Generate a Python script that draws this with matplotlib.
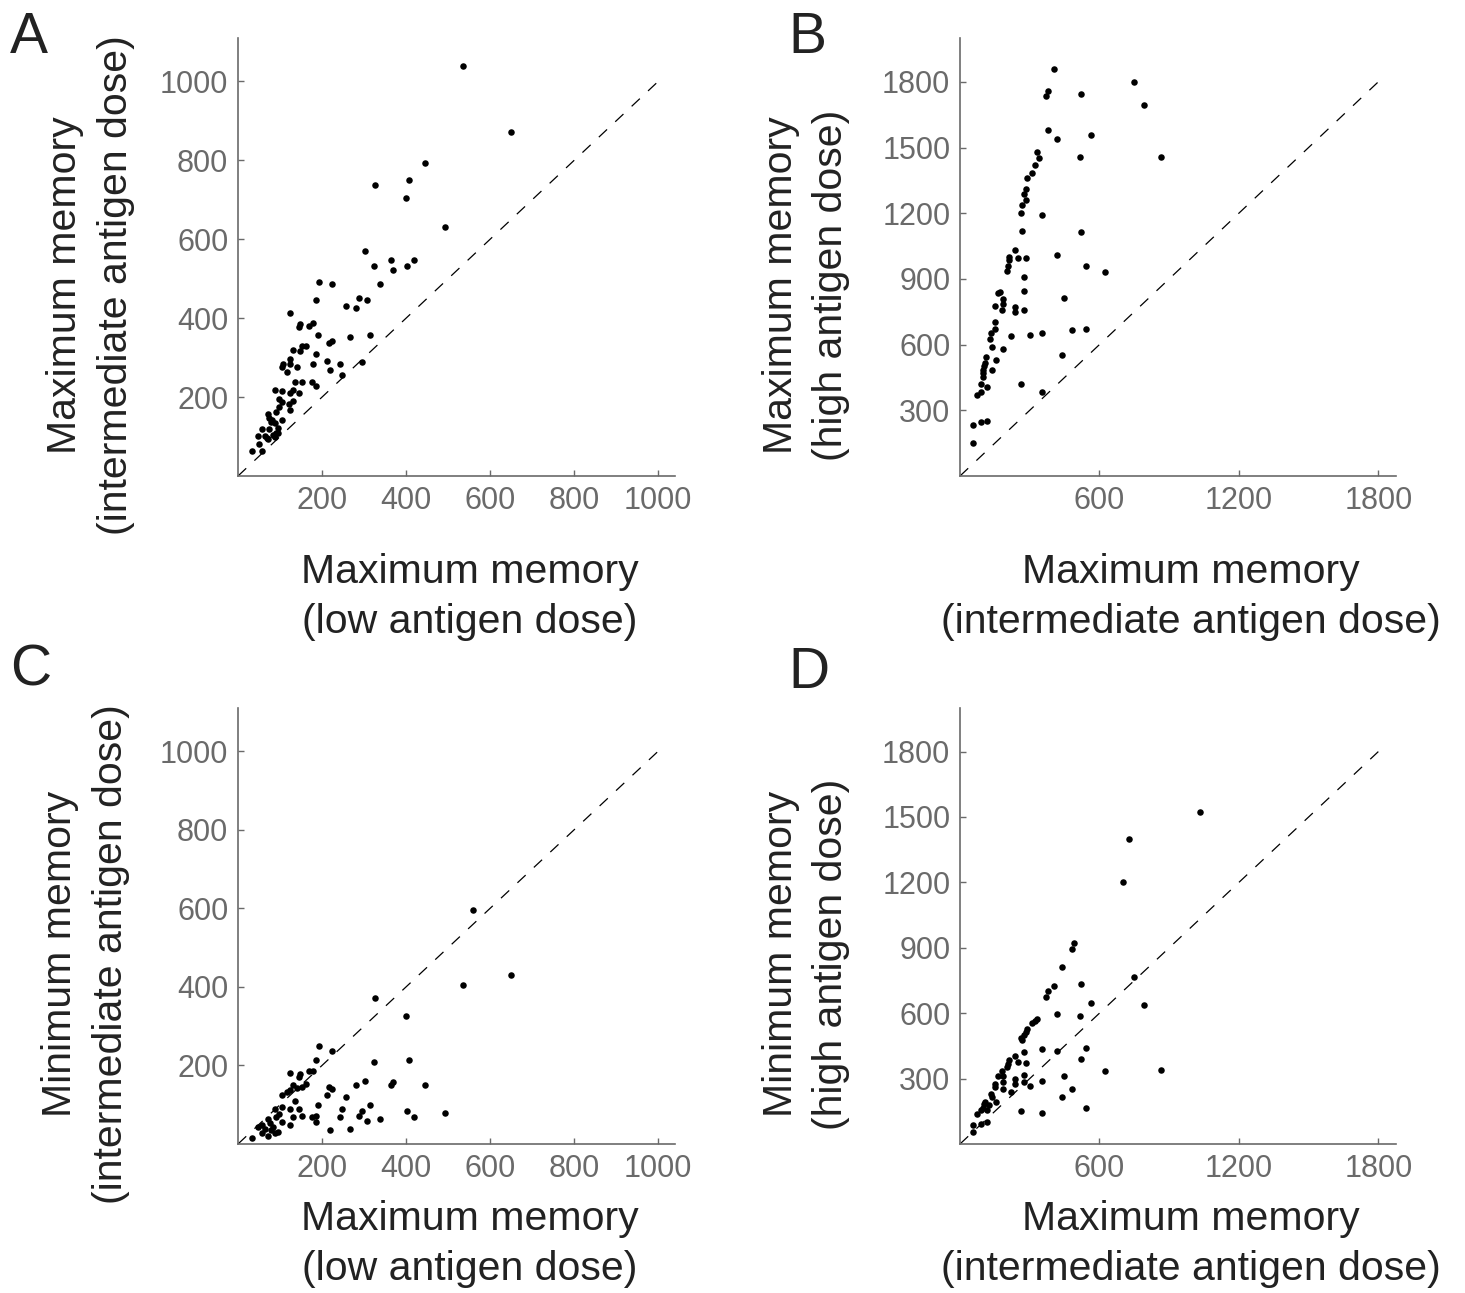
import numpy as np
import matplotlib.pyplot as plt

plt.rcParams['font.family'] = ['Liberation Sans', 'DejaVu Sans']

"""Data read off the four panels"""
# A: max memory, low dose (x) vs max memory, intermediate dose (y)
a_x = [536, 650, 445, 407, 327, 399, 493, 303, 365, 418, 323, 369, 403, 193, 224, 338,
       185, 289, 307, 258, 280, 124, 147, 144, 170, 179, 190, 266, 315, 216, 224, 132,
       148, 152, 163, 186, 124, 107, 105, 117, 123, 140, 179, 212, 220, 243, 296, 247,
       136, 152, 175, 186, 87, 105, 123, 132, 144, 97, 132, 105, 121, 124, 97, 91,
       71, 74, 81, 105, 87, 56, 74, 95, 48, 64, 72, 87, 91, 49, 56, 33,
       78, 68, 83, 95]
a_y = [1038, 872, 794, 750, 737, 705, 632, 571, 547, 547, 531, 523, 531, 491, 486, 486,
       446, 450, 446, 430, 425, 413, 385, 377, 381, 389, 357, 353, 357, 336, 341, 320,
       316, 329, 329, 308, 296, 284, 276, 264, 284, 275, 284, 292, 268, 284, 288, 255,
       239, 239, 239, 227, 219, 215, 211, 219, 211, 195, 191, 187, 183, 167, 175, 163,
       158, 147, 142, 142, 134, 118, 118, 122, 102, 102, 93, 98, 108, 81, 64, 64,
       138, 96, 104, 110]

# B: max memory, intermediate dose (x) vs max memory, high dose (y)
b_x = [406, 749, 380, 370, 522, 791, 379, 419, 564, 330, 338, 323, 517, 867, 310, 288,
       282, 276, 282, 268, 261, 351, 268, 522, 235, 209, 212, 248, 282, 419, 205, 202,
       543, 626, 275, 173, 164, 276, 183, 186, 152, 235, 179, 235, 275, 448, 149, 150,
       133, 127, 219, 303, 351, 482, 543, 137, 186, 111, 109, 97, 97, 97, 137, 157,
       90, 117, 261, 440, 75, 90, 351, 54, 90, 117, 54, 104]
b_y = [1860, 1801, 1758, 1737, 1743, 1692, 1582, 1538, 1559, 1480, 1451, 1420, 1457, 1457, 1384, 1362,
       1311, 1289, 1260, 1237, 1201, 1193, 1121, 1113, 1033, 1002, 987, 996, 996, 1011, 959, 938,
       959, 930, 909, 842, 835, 843, 806, 785, 777, 771, 756, 748, 756, 814, 704, 669,
       655, 626, 638, 646, 654, 667, 669, 588, 580, 544, 518, 486, 470, 452, 486, 530,
       420, 406, 420, 551, 368, 383, 383, 231, 246, 252, 150, 501]

# C: max memory, low dose (x) vs min memory, intermediate dose (y)
c_x = [559, 650, 536, 327, 399, 193, 224, 186, 323, 407, 124, 148, 144, 170, 178, 303,
       280, 365, 369, 445, 163, 152, 140, 132, 124, 117, 105, 216, 224, 212, 258, 136,
       190, 315, 124, 144, 105, 87, 247, 296, 403, 493, 152, 132, 175, 186, 243, 289,
       418, 307, 338, 186, 105, 91, 71, 97, 75, 124, 220, 266, 48, 56, 64, 56,
       87, 95, 72, 33, 83, 79]
c_y = [595, 429, 405, 372, 327, 250, 238, 214, 209, 214, 181, 178, 170, 186, 186, 161,
       149, 149, 157, 149, 154, 145, 142, 149, 137, 133, 125, 145, 141, 125, 120, 109,
       100, 100, 88, 88, 93, 88, 88, 84, 84, 80, 72, 68, 68, 72, 68, 72,
       68, 59, 64, 56, 56, 68, 64, 76, 53, 48, 36, 39, 44, 48, 39, 27,
       27, 31, 20, 15, 44, 36]

# D: max memory, intermediate dose (x) vs min memory, high dose (y)
d_x = [1031, 729, 701, 489, 482, 440, 406, 380, 370, 522, 749, 564, 791, 419, 517, 330,
       323, 310, 288, 282, 276, 261, 268, 351, 419, 543, 522, 275, 235, 212, 248, 206,
       202, 282, 626, 867, 179, 183, 164, 235, 186, 235, 275, 275, 351, 448, 303, 150,
       152, 186, 133, 137, 219, 482, 157, 440, 109, 104, 97, 90, 117, 75, 261, 351,
       543, 54, 90, 117, 54, 124]
d_y = [1525, 1400, 1201, 924, 895, 814, 726, 704, 676, 734, 764, 646, 639, 595, 588, 573,
       565, 557, 528, 514, 500, 486, 478, 434, 428, 442, 392, 421, 405, 384, 376, 368,
       355, 370, 334, 341, 334, 312, 312, 297, 283, 275, 318, 283, 289, 312, 268, 275,
       260, 252, 231, 216, 239, 252, 194, 216, 194, 185, 165, 158, 158, 137, 150, 143,
       165, 85, 92, 100, 56, 178]

"""Figure layout (pixel boxes of the four axes)"""
W, H = 1465, 1293
fig = plt.figure(figsize=(W / 100, H / 100), dpi=100)

grey = '#6a6a6a'
ink = '#222222'


def make_axes(left, top, right, bottom):
    return fig.add_axes([left / W, 1 - bottom / H, (right - left) / W, (bottom - top) / H])


def style(ax, lim_x, lim_y, ticks_x, ticks_y, xlabel, ylabel, diag, xlab_y, ylab_x):
    ax.plot([0, diag], [0, diag], color='black', lw=0.9, linestyle=(0, (9, 9)), zorder=1)
    ax.set_xlim(0, lim_x)
    ax.set_ylim(0, lim_y)
    ax.set_xticks(ticks_x)
    ax.set_yticks(ticks_y)
    for s in ['top', 'right']:
        ax.spines[s].set_visible(False)
    for s in ['left', 'bottom']:
        ax.spines[s].set_color(grey)
        ax.spines[s].set_linewidth(1.2)
    ax.tick_params(direction='in', length=4, width=1, color=grey, labelcolor=grey,
                   labelsize=22, pad=7)
    ax.set_xlabel(xlabel, fontsize=29.5, color=ink, linespacing=1.4)
    ax.xaxis.set_label_coords(0.53, xlab_y)
    ax.set_ylabel(ylabel, fontsize=29.5, color=ink, linespacing=1.42, multialignment='center')
    ax.yaxis.set_label_coords(ylab_x, 0.436)


dot = dict(s=22, color='black', linewidths=0, zorder=3)

axA = make_axes(238, 38, 675, 476)
axA.scatter(a_x, a_y, **dot)
style(axA, 1040, 1110, [200, 400, 600, 800, 1000], [200, 400, 600, 800, 1000],
      'Maximum memory\n(low antigen dose)',
      'Maximum memory\n(intermediate antigen dose)', 1000, -0.176, -0.236)

axB = make_axes(960, 38, 1396, 476)
axB.scatter(b_x, b_y, **dot)
style(axB, 1876, 2000, [600, 1200, 1800], [300, 600, 900, 1200, 1500, 1800],
      'Maximum memory\n(intermediate antigen dose)',
      'Maximum memory\n(high antigen dose)', 1800, -0.176, -0.252)

axC = make_axes(238, 708, 675, 1144)
axC.scatter(c_x, c_y, **dot)
style(axC, 1040, 1110, [200, 400, 600, 800, 1000], [200, 400, 600, 800, 1000],
      'Maximum memory\n(low antigen dose)',
      'Minimum memory\n(intermediate antigen dose)', 1000, -0.129, -0.247)

axD = make_axes(960, 708, 1396, 1144)
axD.scatter(d_x, d_y, **dot)
style(axD, 1876, 2000, [600, 1200, 1800], [300, 600, 900, 1200, 1500, 1800],
      'Maximum memory\n(intermediate antigen dose)',
      'Minimum memory\n(high antigen dose)', 1800, -0.129, -0.252)

for letter, x, y in [('A', 10, 53), ('B', 788, 53), ('C', 10, 685), ('D', 788, 688)]:
    fig.text(x / W, 1 - y / H, letter, fontsize=41, color=ink, ha='left', va='baseline')

fig.savefig('out.png', dpi=100)
